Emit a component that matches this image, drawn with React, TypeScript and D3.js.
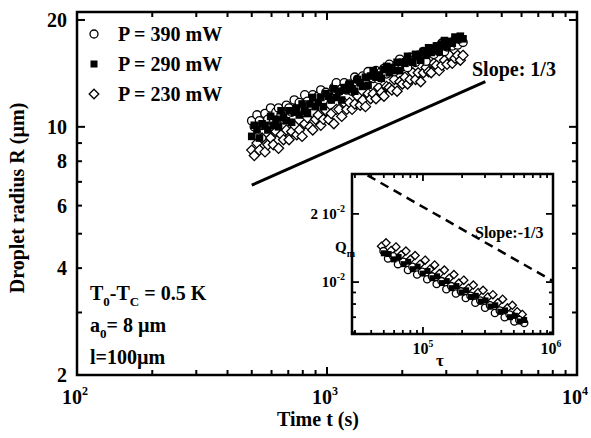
import React from 'react'
import * as d3 from 'd3'

// main plot: time (s) and droplet radius (um) for the three laser powers
const timeS = [500, 512, 525, 537, 550, 565, 580, 595, 610, 625, 640, 655, 670, 688, 705, 722, 740, 757, 775, 795, 815, 835, 855, 877, 900, 922, 945, 967, 990, 1015, 1040, 1065, 1090, 1117, 1145, 1172, 1200, 1230, 1260, 1292, 1325, 1357, 1390, 1425, 1460, 1495, 1530, 1570, 1610, 1650, 1690, 1732, 1775, 1817, 1860, 1907, 1955, 2002, 2050, 2100, 2150, 2205, 2260, 2315, 2370, 2430, 2490, 2550, 2610, 2675, 2740, 2810, 2880, 2950, 3020, 3095, 3170, 3250, 3330, 3415, 3500]
const r390 = [10.4, 10.0, 10.8, 10.4, 10.1, 10.9, 10.5, 11.3, 10.3, 11.0, 11.3, 10.8, 10.5, 11.5, 11.3, 11.0, 11.9, 11.3, 11.7, 11.1, 12.3, 11.8, 11.5, 12.3, 11.8, 12.2, 12.7, 11.9, 12.5, 12.3, 12.0, 12.9, 13.3, 12.6, 12.8, 13.3, 12.7, 13.2, 12.6, 13.8, 13.6, 13.4, 13.9, 13.3, 14.3, 13.8, 13.7, 14.4, 13.6, 14.3, 14.6, 14.1, 15.0, 14.5, 14.3, 15.0, 15.5, 14.8, 15.2, 14.7, 15.7, 15.4, 15.2, 15.9, 15.6, 16.3, 15.3, 16.2, 16.2, 16.0, 16.8, 16.3, 17.2, 16.3, 16.8, 17.2, 16.9, 17.6, 17.0, 17.6, 17.3]
const r290 = [9.4, 10.1, 9.8, 9.3, 10.2, 10.1, 9.8, 10.7, 10.1, 10.5, 10.0, 11.1, 10.6, 10.4, 11.1, 10.3, 11.0, 11.3, 10.8, 11.6, 11.1, 10.9, 11.6, 12.1, 11.4, 11.7, 12.1, 11.4, 12.4, 12.2, 11.9, 12.8, 12.1, 12.6, 11.9, 12.9, 12.7, 13.2, 12.8, 12.6, 13.6, 13.3, 13.0, 13.8, 13.1, 13.9, 14.4, 13.8, 14.0, 13.7, 14.5, 14.8, 14.2, 14.7, 14.4, 15.2, 14.4, 15.2, 15.1, 15.8, 15.3, 15.2, 16.0, 15.8, 15.4, 16.3, 15.9, 16.7, 16.2, 16.5, 16.9, 16.3, 17.1, 17.5, 16.8, 17.4, 17.2, 17.9, 17.6, 18.0, 17.7]
const r230 = [8.6, 8.3, 9.0, 8.6, 9.3, 8.5, 8.9, 9.3, 8.9, 9.7, 8.7, 9.5, 9.2, 9.8, 9.2, 9.7, 10.1, 9.5, 9.8, 9.4, 10.2, 10.6, 10.0, 9.8, 10.5, 10.8, 10.1, 10.5, 11.1, 10.5, 10.9, 10.2, 11.2, 11.2, 10.7, 11.7, 11.2, 11.7, 11.2, 11.6, 12.2, 11.5, 11.9, 11.4, 12.4, 12.0, 12.4, 12.0, 12.9, 12.5, 12.2, 13.0, 12.9, 12.7, 13.6, 12.6, 13.4, 13.2, 13.8, 13.2, 13.6, 14.2, 13.6, 14.2, 13.4, 14.2, 14.7, 14.3, 14.2, 15.1, 14.9, 14.4, 14.9, 15.4, 15.0, 15.9, 15.1, 15.6, 15.9, 15.4, 15.9]
const slopeLineT = [500, 4300]
const slopeLineR = [6.85, 13.4]

// inset: tau and Q_m
const tauA = [48000, 52000, 57000, 62000, 68000, 74000, 80000, 87000, 95000, 104000, 113000, 123000, 134000, 146000, 159000, 173000, 189000, 206000, 224000, 244000, 266000, 290000, 316000, 345000, 376000, 410000, 447000, 487000, 531000, 580000]
const tauB = [50000, 54500, 59500, 65000, 71000, 77000, 83500, 91000, 99500, 108500, 118000, 128500, 140000, 152500, 166000, 181000, 197500, 215000, 234000, 255000, 278000, 303000, 330000, 360000, 393000, 428000, 467000, 509000, 555000, 600000]
const q390 = [0.0137, 0.0127, 0.0130, 0.0120, 0.0123, 0.0113, 0.0117, 0.0108, 0.0111, 0.0103, 0.0106, 0.0098, 0.0101, 0.0093, 0.0096, 0.0089, 0.0091, 0.0085, 0.0087, 0.0081, 0.0083, 0.0077, 0.0079, 0.0073, 0.0075, 0.0070, 0.0072, 0.0067, 0.0068, 0.0066]
const q290 = [0.0134, 0.0133, 0.0126, 0.0129, 0.0120, 0.0123, 0.0114, 0.0117, 0.0109, 0.0112, 0.0104, 0.0106, 0.0099, 0.0101, 0.0094, 0.0096, 0.0090, 0.0092, 0.0086, 0.0087, 0.0082, 0.0083, 0.0078, 0.0079, 0.0074, 0.0075, 0.0070, 0.0071, 0.0067, 0.0068]
const q230 = [0.0144, 0.0149, 0.0138, 0.0143, 0.0132, 0.0137, 0.0126, 0.0131, 0.0120, 0.0125, 0.0114, 0.0119, 0.0109, 0.0113, 0.0104, 0.0108, 0.0099, 0.0102, 0.0094, 0.0097, 0.0090, 0.0092, 0.0086, 0.0088, 0.0081, 0.0084, 0.0077, 0.0079, 0.0074, 0.0072]
const insetLineTau = [37500, 1000000]
const insetLineQ = [0.0296, 0.0101]

const legendLabels = ['P = 390 mW', 'P = 290 mW', 'P = 230 mW']
const yTicks = [2, 3, 4, 5, 6, 7, 8, 9, 10, 20]
const yLabeled = [2, 4, 6, 8, 10, 20]
const xTicks = [100, 200, 300, 400, 500, 600, 700, 800, 900, 1000, 2000, 3000, 4000, 5000, 6000, 7000, 8000, 9000, 10000]
const xLabeled = [100, 1000, 10000]
const insetXTicks = [30000, 40000, 50000, 60000, 70000, 80000, 90000, 100000, 200000, 300000, 400000, 500000, 600000, 700000, 800000, 900000]
const insetYTicks = [0.006, 0.007, 0.008, 0.009, 0.01, 0.02]

const font = 'Liberation Serif, Times New Roman, serif'

function Marker({ kind, cx, cy, s }: { kind: number; cx: number; cy: number; s: number }) {
  if (kind === 0) return <circle cx={cx} cy={cy} r={s} fill="#fff" stroke="#000" strokeWidth={1.3} />
  if (kind === 1) return <rect x={cx - s} y={cy - s} width={2 * s} height={2 * s} fill="#000" />
  return <path d={`M${cx},${cy - s * 1.2}L${cx + s * 1.2},${cy}L${cx},${cy + s * 1.2}L${cx - s * 1.2},${cy}Z`} fill="#fff" stroke="#000" strokeWidth={1.3} />
}

function Pow({ x, y, exp, size, anchor = 'middle' }: any) {
  return (
    <text x={x} y={y} fontSize={size} fontWeight="bold" textAnchor={anchor} fontFamily={font}>
      10<tspan dy={-size * 0.45} fontSize={size * 0.6}>{exp}</tspan>
    </text>
  )
}

export default function App() {
  const x = d3.scaleLog().domain([100, 10000]).range([77, 577])
  const y = d3.scaleLog().domain([2, 21.06]).range([375, 12])
  const ix = d3.scaleLog().domain([28470, 1000000]).range([352, 553])
  const iy = d3.scaleLog().domain([0.0059, 0.03]).range([334, 174])

  const mainSeries = [r390, r290, r230]

  return (
    <svg width={591} height={438} style={{ position: 'absolute', left: 0, top: 0, background: '#fff' }}>
      {/* main data, drawn back to front */}
      {[2, 0, 1].map(k =>
        timeS.map((t, i) => <Marker key={`m${k}-${i}`} kind={k} cx={x(t)} cy={y(mainSeries[k][i])} s={k === 1 ? 3.8 : 4.2} />)
      )}
      <line x1={x(slopeLineT[0])} y1={y(slopeLineR[0])} x2={x(slopeLineT[1])} y2={y(slopeLineR[1])} stroke="#000" strokeWidth={3} />
      <text x={472} y={76} fontSize={20} fontWeight="bold" fontFamily={font}>Slope: 1/3</text>

      {/* main frame and ticks */}
      <rect x={77} y={12} width={500} height={363} fill="none" stroke="#000" strokeWidth={2.5} />
      {yTicks.map(v => {
        const len = v === 10 || v === 20 ? 8 : 5
        return (
          <g key={`yt${v}`}>
            <line x1={77} x2={77 + len} y1={y(v)} y2={y(v)} stroke="#000" strokeWidth={2} />
            <line x1={577} x2={577 - len} y1={y(v)} y2={y(v)} stroke="#000" strokeWidth={2} />
          </g>
        )
      })}
      {xTicks.map(v => {
        const len = xLabeled.includes(v) ? 8 : 5
        return (
          <g key={`xt${v}`}>
            <line x1={x(v)} x2={x(v)} y1={375} y2={375 - len} stroke="#000" strokeWidth={2} />
            <line x1={x(v)} x2={x(v)} y1={12} y2={12 + len} stroke="#000" strokeWidth={2} />
          </g>
        )
      })}
      {yLabeled.map(v => (
        <text key={`yl${v}`} x={67} y={y(v) + 7} fontSize={20} fontWeight="bold" textAnchor="end" fontFamily={font}>{v}</text>
      ))}
      {xLabeled.map((v, i) => (
        <Pow key={`xl${v}`} x={x(v) - 2} y={404} exp={i + 2} size={20} />
      ))}
      <text x={318} y={426} fontSize={20} fontWeight="bold" textAnchor="middle" fontFamily={font}>Time t (s)</text>
      <text transform="translate(24,198) rotate(-90)" fontSize={20} fontWeight="bold" textAnchor="middle" fontFamily={font}>Droplet radius R (µm)</text>

      {/* legend */}
      {legendLabels.map((l, i) => (
        <g key={l}>
          <Marker kind={i} cx={94} cy={34 + i * 30} s={i === 1 ? 3.5 : 4} />
          <text x={118} y={41 + i * 30} fontSize={20} fontWeight="bold" fontFamily={font}>{l}</text>
        </g>
      ))}

      {/* conditions */}
      <text x={90} y={300} fontSize={20} fontWeight="bold" fontFamily={font}>
        T<tspan dy={6} fontSize={13}>0</tspan><tspan dy={-6}>-T</tspan><tspan dy={6} fontSize={13}>C</tspan><tspan dy={-6}> = 0.5 K</tspan>
      </text>
      <text x={90} y={332} fontSize={20} fontWeight="bold" fontFamily={font}>
        a<tspan dy={6} fontSize={13}>0</tspan><tspan dy={-6}>= 8 µm</tspan>
      </text>
      <text x={90} y={364} fontSize={20} fontWeight="bold" fontFamily={font}>l=100µm</text>

      {/* inset */}
      <rect x={352} y={174} width={201} height={160} fill="#fff" />
      {tauA.map((t, i) => <Marker key={`id${i}`} kind={2} cx={ix(t)} cy={iy(q230[i])} s={3.4} />)}
      {tauA.map((t, i) => <Marker key={`ic${i}`} kind={0} cx={ix(t) + 2} cy={iy(q390[i])} s={3.6} />)}
      {tauB.map((t, i) => <Marker key={`is${i}`} kind={1} cx={ix(t)} cy={iy(q290[i])} s={3} />)}
      <line x1={ix(insetLineTau[0])} y1={iy(insetLineQ[0])} x2={ix(insetLineTau[1])} y2={iy(insetLineQ[1])} stroke="#000" strokeWidth={2.5} strokeDasharray="9,6" />
      <text x={475} y={238} fontSize={16} fontWeight="bold" fontFamily={font}>Slope:-1/3</text>
      <rect x={352} y={174} width={201} height={160} fill="none" stroke="#000" strokeWidth={2.5} />
      {insetXTicks.map(v => {
        const len = v === 100000 ? 7 : 4
        return (
          <g key={`ixt${v}`}>
            <line x1={ix(v)} x2={ix(v)} y1={334} y2={334 - len} stroke="#000" strokeWidth={1.8} />
            <line x1={ix(v)} x2={ix(v)} y1={174} y2={174 + len} stroke="#000" strokeWidth={1.8} />
          </g>
        )
      })}
      {insetYTicks.map(v => {
        const len = v === 0.01 || v === 0.02 ? 7 : 4
        return (
          <g key={`iyt${v}`}>
            <line x1={352} x2={352 + len} y1={iy(v)} y2={iy(v)} stroke="#000" strokeWidth={1.8} />
            <line x1={553} x2={553 - len} y1={iy(v)} y2={iy(v)} stroke="#000" strokeWidth={1.8} />
          </g>
        )
      })}
      <text x={345} y={iy(0.02) + 5} fontSize={15} fontWeight="bold" textAnchor="end" fontFamily={font}>
        2 10<tspan dy={-7} fontSize={10}>-2</tspan>
      </text>
      <text x={345} y={iy(0.01) + 5} fontSize={15} fontWeight="bold" textAnchor="end" fontFamily={font}>
        10<tspan dy={-7} fontSize={10}>-2</tspan>
      </text>
      <text x={335} y={252} fontSize={15} fontWeight="bold" fontFamily={font}>
        Q<tspan dy={5} fontSize={10}>m</tspan>
      </text>
      <Pow x={ix(100000)} y={354} exp={5} size={16} />
      <Pow x={ix(1000000) - 2} y={354} exp={6} size={16} />
      <text x={440} y={366} fontSize={17} fontWeight="bold" textAnchor="middle" fontFamily={font}>τ</text>
    </svg>
  )
}
